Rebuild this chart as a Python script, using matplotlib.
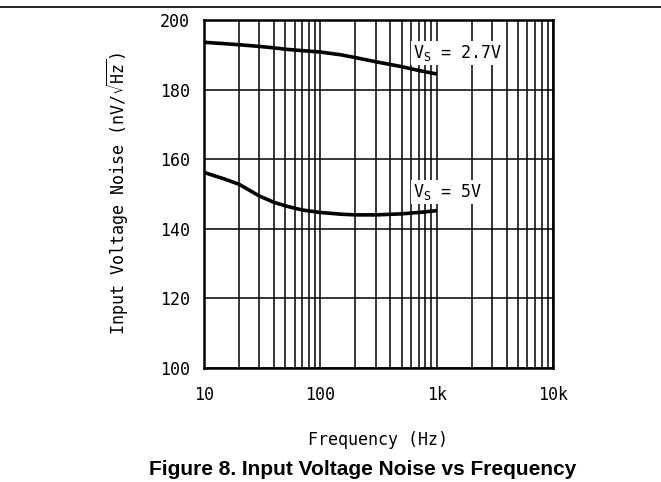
import numpy as np
import matplotlib.pyplot as plt
from matplotlib.lines import Line2D
from matplotlib.ticker import FixedLocator, LogLocator, NullFormatter

# Dane
freq = [10, 15, 20, 30, 40, 50, 70, 100, 150, 200, 300, 500, 700, 1000]
noise_27v = [193.6, 193.2, 192.9, 192.4, 192.0, 191.6, 191.2, 190.8, 190.0, 189.2, 188.0, 186.6, 185.5, 184.5]
noise_5v = [156.2, 154.3, 152.8, 149.4, 147.6, 146.6, 145.4, 144.7, 144.2, 144.0, 144.0, 144.3, 144.7, 145.2]

x_ticks = [10, 100, 1000, 10000]
x_labels = ["10", "100", "1k", "10k"]
y_ticks = [100, 120, 140, 160, 180, 200]

plt.rcParams['font.family'] = ['DejaVu Sans Mono']
plt.rcParams['mathtext.default'] = 'regular'

fig = plt.figure(figsize=(6.61, 4.82), dpi=100)
ax = fig.add_axes([0.3086, 0.2365, 0.528, 0.722])

ax.set_xscale('log')
ax.set_xlim(10, 10000)
ax.set_ylim(100, 200)

ax.plot(freq, noise_27v, color='black', lw=2.6, solid_capstyle='butt', zorder=3)
ax.plot(freq, noise_5v, color='black', lw=2.6, solid_capstyle='butt', zorder=3)

ax.xaxis.set_major_locator(FixedLocator(x_ticks))
ax.set_xticklabels(x_labels)
ax.xaxis.set_minor_locator(LogLocator(base=10, subs=np.arange(2, 10)))
ax.xaxis.set_minor_formatter(NullFormatter())
ax.set_yticks(y_ticks)

ax.grid(True, which='both', axis='x', color='black', lw=1.1)
ax.grid(True, which='major', axis='y', color='black', lw=1.1)
ax.tick_params(which='both', length=0, labelsize=12)
ax.tick_params(axis='y', pad=10)
ax.tick_params(axis='x', pad=13)

for s in ax.spines.values():
    s.set_linewidth(1.8)

box = dict(facecolor='white', edgecolor='none', pad=1.5)
ax.text(630, 189.1, r"V$_{S}$ = 2.7V", fontsize=12, ha='left', va='baseline', bbox=box, zorder=4)
ax.text(630, 149.1, r"V$_{S}$ = 5V", fontsize=12, ha='left', va='baseline', bbox=box, zorder=4)

ax.set_ylabel(r"Input Voltage Noise (nV/$\sqrt{Hz}$)", fontsize=12, labelpad=22)
fig.text(0.572, 0.087, "Frequency (Hz)", fontsize=12, ha='center', va='center')
fig.text(0.548, 0.025, "Figure 8. Input Voltage Noise vs Frequency", fontsize=15,
         fontweight='bold', family='Liberation Sans', ha='center', va='center')

# linia na górze strony
fig.add_artist(Line2D([0, 1], [0.985, 0.985], transform=fig.transFigure, color='black', lw=1.2))

fig.savefig("out.png", dpi=100)
